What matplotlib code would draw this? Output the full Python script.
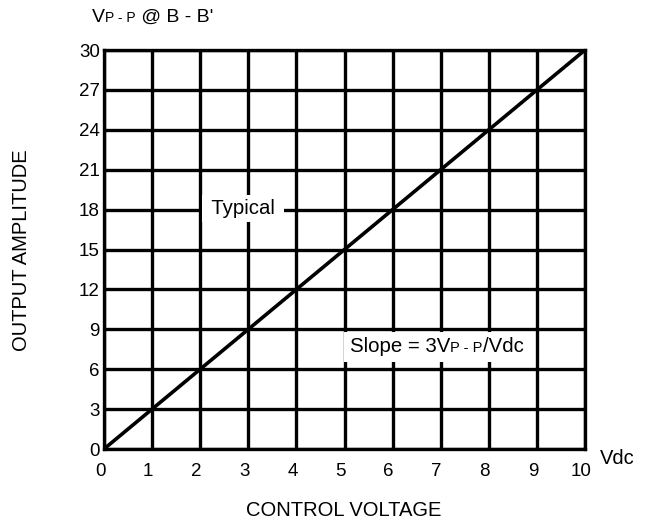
import matplotlib.pyplot as plt
import matplotlib.transforms as mtransforms
from matplotlib.offsetbox import AnnotationBbox, HPacker, TextArea

plt.rcParams["font.family"] = ["Liberation Sans", "DejaVu Sans"]

# data
control_v = [0, 10]
amplitude = [0, 30]
x_ticks = [0, 1, 2, 3, 4, 5, 6, 7, 8, 9, 10]
y_ticks = [0, 3, 6, 9, 12, 15, 18, 21, 24, 27, 30]

W, H = 652, 522
fig = plt.figure(figsize=(W / 100, H / 100), dpi=100)
ax = fig.add_axes([104 / W, 1 - 449 / H, 481 / W, 399 / H])

ax.set_xlim(0, 10)
ax.set_ylim(0, 30)
ax.set_xticks(x_ticks)
ax.set_yticks(y_ticks)
ax.grid(True, color="black", linewidth=2.4)
ax.set_axisbelow(True)
for s in ax.spines.values():
    s.set_linewidth(2.4)
ax.tick_params(length=0, labelsize=13.5)
ax.tick_params(axis="y", pad=3)
ax.tick_params(axis="x", pad=10)
shift = mtransforms.ScaledTranslation(-4 / 100, 0, fig.dpi_scale_trans)
for lbl in ax.get_xticklabels():
    lbl.set_transform(lbl.get_transform() + shift)

ax.plot(control_v, amplitude, color="black", linewidth=2.6, zorder=3)


def packed(parts):
    areas = [TextArea(t, textprops=dict(fontsize=fs, color="black")) for t, fs in parts]
    return HPacker(children=areas, align="baseline", pad=0, sep=0)


def label_box(parts, xy, pad):
    ab = AnnotationBbox(packed(parts), xy, frameon=True, pad=pad,
                        bboxprops=dict(facecolor="white", edgecolor="none"),
                        zorder=4)
    ax.add_artist(ab)


label_box([(" Typical ", 14.7)], (2.89, 18.1), 0.3)
label_box([("Slope = 3V", 14.7), ("P - P", 10.5), ("/Vdc", 14.7)], (6.92, 7.67), 0.4)

# unit label above the y axis
top = AnnotationBbox(packed([("V", 14), ("P - P", 10), (" @ B - B'", 14)]),
                     (92 / W, 1 - 17 / H), xycoords="figure fraction",
                     box_alignment=(0, 0.5), frameon=False)
fig.add_artist(top)

fig.text(600 / W, 1 - 458 / H, "Vdc", fontsize=14.5, ha="left", va="center")
fig.text(344 / W, 1 - 511 / H, "CONTROL VOLTAGE", fontsize=14.5,
         ha="center", va="center")
fig.text(22 / W, 1 - 250 / H, "OUTPUT AMPLITUDE", fontsize=14.5,
         ha="center", va="center", rotation=90)

fig.savefig("out.png", dpi=100)
